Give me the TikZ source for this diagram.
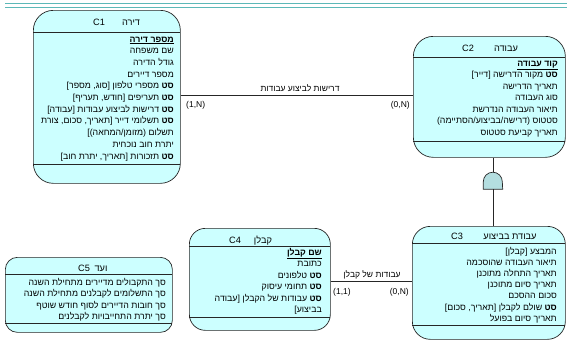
\documentclass[tikz,border=0pt]{standalone}
\usepackage{fontspec}
\setmainfont{Liberation Sans}
\newfontfamily\hf[Script=Hebrew]{Liberation Sans}
\TeXXeTstate=1
\definecolor{boxfill}{HTML}{CCFFFF}
\definecolor{gatefill}{HTML}{B4DEE0}
\definecolor{topline}{HTML}{5CB8B8}
\newcommand\he[1]{{\hf\beginR #1\endR}}
\newcommand\ul[1]{\underline{\hf\beginR\textbf{#1}\endR}}
\newcommand\sbold{\textbf{סט} }
\begin{document}
\begin{tikzpicture}[x=1pt,y=-1pt,
  entity/.style={draw=black!85, fill=boxfill, line width=0.7pt, rounded corners=#1, inner sep=0pt, anchor=north west},
  entity/.default=20pt,
  sepline/.style={draw=black!85, line width=0.7pt},
  attr/.style={anchor=base east, inner sep=0pt, font=\fontsize{8.8}{10}\selectfont},
  head/.style={anchor=base, inner sep=0pt, font=\fontsize{9.2}{10}\selectfont},
  lbl/.style={inner sep=0pt, font=\fontsize{8.5}{10}\selectfont},
  rel/.style={draw=black!85, line width=0.7pt}]
\useasboundingbox (0,0) rectangle (567,341);
% top lines
\draw[topline, line width=1.3pt] (5,3.5) -- (567,3.5);
\draw[topline, line width=1.3pt] (5,7.5) -- (567,7.5);

% C1
\node[entity, minimum width=147pt, minimum height=173pt] (c1) at (33,10) {};
\draw[sepline] (33,32.5) -- (180,32.5);
\draw[sepline] (33,164) -- (180,164);
\node[head] (c1n) at (99,25) {C1};
\node[head] (c1h) at (131,25) {\he{דירה}};
\foreach \txt [count=\i from 0] in {
  {\ul{מספר דירה}},
  {שם משפחה},
  {גודל הדירה},
  {מספר דיירים},
  {\sbold מספרי טלפון [סוג, מספר]},
  {\sbold תעריפים [חודש, תעריף]},
  {\sbold דרישות לביצוע עבודות [עבודה]},
  {\sbold תשלומי דייר [תאריך, סכום, צורת},
  {תשלום (מזומן/המחאה)]},
  {יתרת חוב נוכחית},
  {\sbold תזכורות [תאריך, יתרת חוב]}}
  {\node[attr] (c1t\i) at (174,42+11.7*\i) {\he{\txt}};}

% C2
\node[entity, minimum width=152pt, minimum height=121pt] (c2) at (413,36) {};
\draw[sepline] (413,57) -- (565,57);
\draw[sepline] (413,141) -- (565,141);
\node[head] (c2n) at (468,51) {C2};
\node[head] (c2h) at (506,51) {\he{עבודה}};
\foreach \txt [count=\i from 0] in {
  {\ul{קוד עבודה}},
  {\sbold מקור הדרישה [דייר]},
  {תאריך הדרישה},
  {סוג העבודה},
  {תיאור העבודה הנדרשת},
  {סטטוס (דרישה/בביצוע/הסתיימה)},
  {תאריך קביעת סטטוס}}
  {\node[attr] (c2t\i) at (558,66+11.5*\i) {\he{\txt}};}

% C3
\node[entity=18pt, minimum width=153pt, minimum height=113pt] (c3) at (412,226) {};
\draw[sepline] (412,243.5) -- (565,243.5);
\draw[sepline] (412,325) -- (565,325);
\node[head] (c3n) at (457,239) {C3};
\node[head] (c3h) at (510,239) {\he{עבודת בביצוע}};
\foreach \txt [count=\i from 0] in {
  {המבצע [קבלן]},
  {תיאור העבודה שהוסכמה},
  {תאריך התחלה מתוכנן},
  {תאריך סיום מתוכנן},
  {סכום ההסכם},
  {\sbold שולם לקבלן [תאריך, סכום]},
  {תאריך סיום בפועל}}
  {\node[attr] (c3t\i) at (557,254+11.2*\i) {\he{\txt}};}

% C4
\node[entity=16pt, minimum width=141pt, minimum height=102pt] (c4) at (189,228) {};
\draw[sepline] (189,246) -- (330,246);
\draw[sepline] (189,317) -- (330,317);
\node[head] (c4n) at (235,243) {C4};
\node[head] (c4h) at (263,243) {\he{קבלן}};
\foreach \txt [count=\i from 0] in {
  {\ul{שם קבלן}},
  {כתובת},
  {\sbold טלפונים},
  {\sbold תחומי עיסוק},
  {\sbold עבודות של הקבלן [עבודה},
  {בביצוע]}}
  {\node[attr] (c4t\i) at (322,255+11.5*\i) {\he{\txt}};}

% C5
\node[entity=12pt, minimum width=167pt, minimum height=75pt] (c5) at (5,257) {};
\draw[sepline] (5,274) -- (172,274);
\draw[sepline] (5,323) -- (172,323);
\node[head] (c5n) at (84,271) {C5};
\node[head] (c5h) at (101,271) {\he{ועד}};
\foreach \txt [count=\i from 0] in {
  {סך התקבולים מדיירים מתחילת השנה},
  {סך התשלומים לקבלנים מתחילת השנה},
  {סך חובות הדיירים לסוף חודש שוטף},
  {סך יתרת התחייבויות לקבלנים}}
  {\node[attr] (c5t\i) at (166,285+11.5*\i) {\he{\txt}};}

% gate between C2 and C3
\node[inner sep=0pt, minimum width=19pt, minimum height=17pt] (gate) at (493,180.5) {};
\draw[fill=gatefill, draw=black!85, line width=0.7pt]
  (gate.south west) -- ([yshift=7.5pt]gate.south west) arc[start angle=180, end angle=0, radius=9.5pt]
  -- (gate.south east) -- cycle;
\draw[rel] (gate.north) -- (gate.north |- c2.south);
\draw[rel] (gate.south) -- (gate.south |- c3.north);

% relationship C1 - C2
\coordinate (r1a) at (c1.east |- 0,95);
\coordinate (r1b) at (c2.west |- 0,95);
\draw[rel] (r1a) -- (r1b);
\node[lbl, anchor=base] (r1l) at (300,91) {\he{דרישות לביצוע עבודות}};
\node[lbl, anchor=base west] (r1c1) at (186,107) {(1,N)};
\node[lbl, anchor=base east] (r1c2) at (410,107) {(0,N)};

% relationship C4 - C3
\coordinate (r2a) at (c4.east |- 0,281);
\coordinate (r2b) at (c3.west |- 0,281);
\draw[rel] (r2a) -- (r2b);
\node[lbl, anchor=base] (r2l) at (372,277) {\he{עבודות של קבלן}};
\node[lbl, anchor=base west] (r2c1) at (333,294) {(1,1)};
\node[lbl, anchor=base east] (r2c2) at (409,294) {(0,N)};
\end{tikzpicture}
\end{document}
